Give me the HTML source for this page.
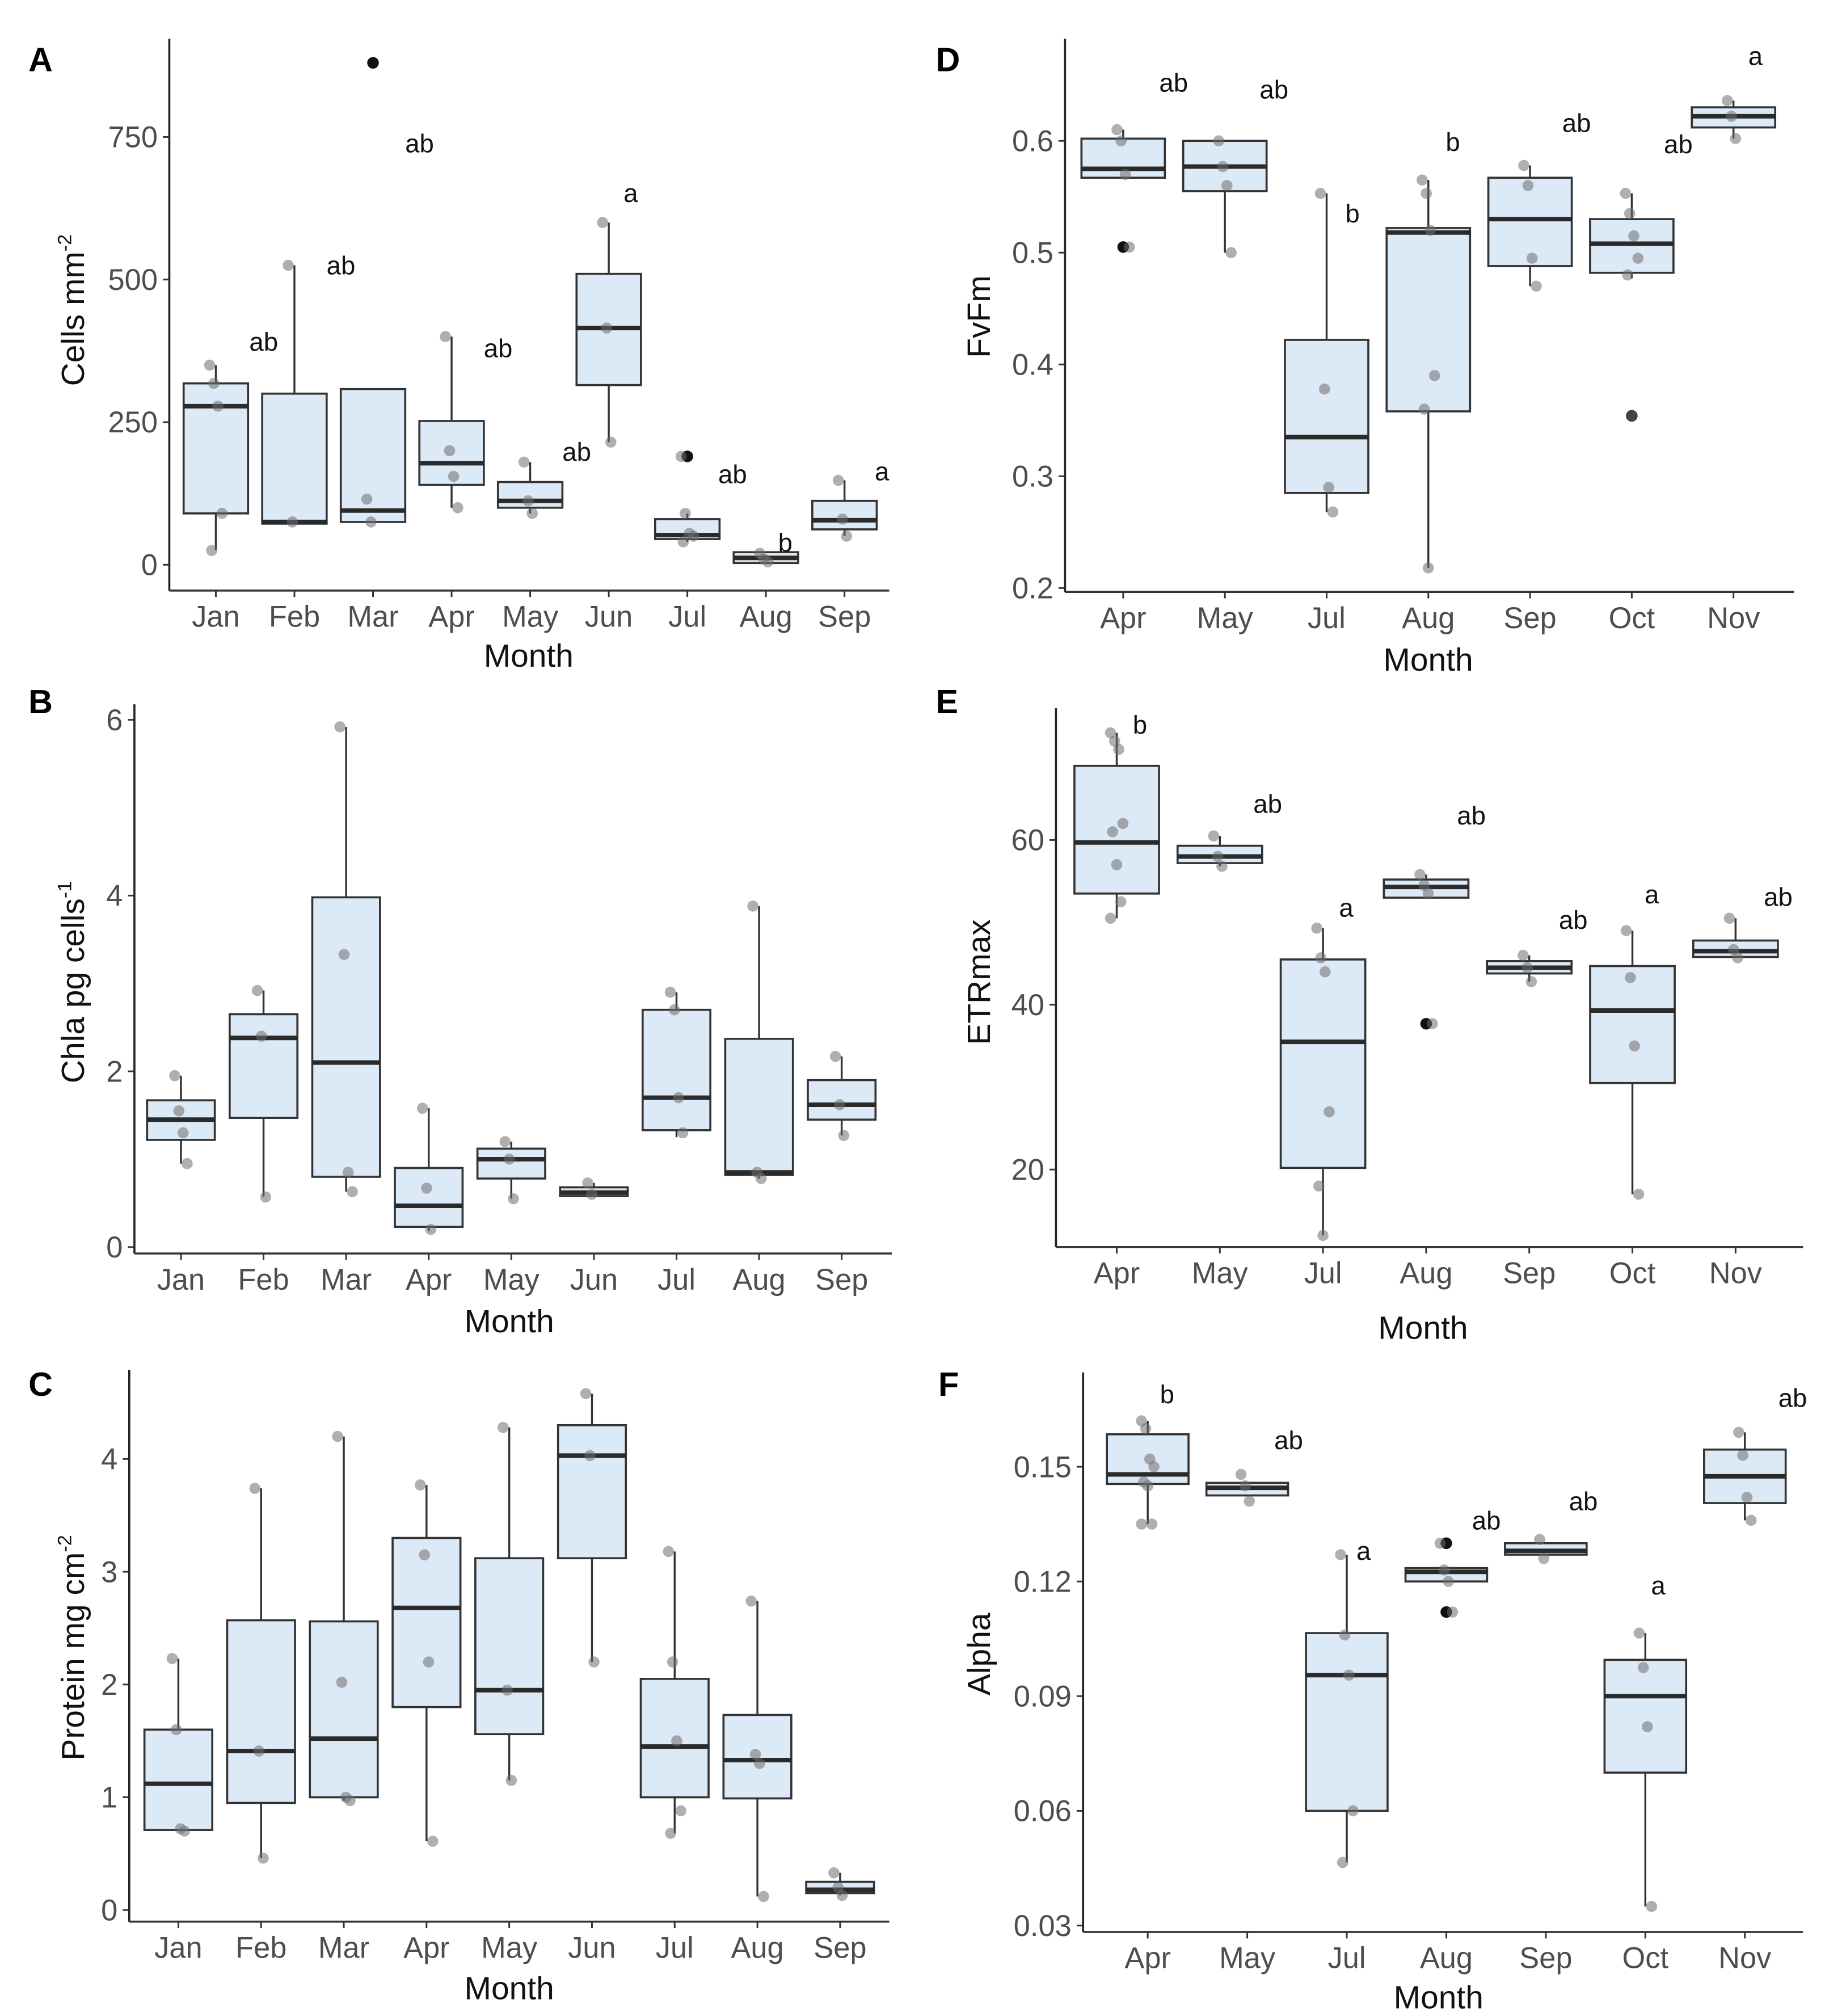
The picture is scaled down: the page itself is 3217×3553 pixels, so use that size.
<!DOCTYPE html>
<html><head><meta charset="utf-8"><style>
html,body{margin:0;padding:0;background:#fff;}
svg{display:block;}
text{font-family:"Liberation Sans",sans-serif;}
</style></head><body>
<svg id="fig" width="3217" height="3553" viewBox="0 0 1412 1560" preserveAspectRatio="none" xmlns="http://www.w3.org/2000/svg"></svg>
<script>
// ---- Data: panel A (Cells mm-2)
const monthsA = ["Jan","Feb","Mar","Apr","May","Jun","Jul","Aug","Sep"];
const boxA = [[25,90,278,318,350],[72,72,75,300,525],[75,75,95,308,308],[100,140,178,252,400],[90,100,112,145,180],[215,315,415,510,600],[40,45,52,80,90],[3,3,12,22,22],[50,62,78,112,148]];
const ptsA = [[350,318,278,90,25],[525,75],[115,75],[400,200,155,100],[180,112,90],[600,415,215],[190,90,55,50,40],[20,10,5],[148,80,50]];
const outA = [[],[],[880],[],[],[],[190],[],[]];
const letA = ["ab","ab","ab","ab","ab","a","ab","b","a"];
const letValA = [391,525,739,380,198,652,159,39,164];
const ticksA = [0,250,500,750];
// panel B (Chla)
const monthsB = monthsA;
const boxB = [[0.95,1.22,1.45,1.67,1.95],[0.57,1.47,2.38,2.65,2.92],[0.63,0.8,2.1,3.98,5.92],[0.18,0.23,0.47,0.9,1.58],[0.55,0.78,1.0,1.12,1.2],[0.58,0.58,0.62,0.68,0.73],[1.25,1.33,1.7,2.7,2.9],[0.78,0.82,0.85,2.37,3.88],[1.27,1.45,1.62,1.9,2.17]];
const ptsB = [[1.95,1.55,1.3,0.95],[2.92,2.4,0.57],[5.92,3.33,0.85,0.63],[1.58,0.67,0.2],[1.2,1.0,0.55],[0.73,0.6],[2.9,2.7,1.7,1.3],[3.88,0.85,0.78],[2.17,1.62,1.27]];
const ticksB = [0,2,4,6];
// panel C (Protein)
const monthsC = monthsA;
const boxC = [[0.7,0.71,1.12,1.6,2.23],[0.46,0.95,1.41,2.57,3.74],[0.97,1.0,1.52,2.56,4.2],[0.61,1.8,2.68,3.3,3.77],[1.15,1.56,1.95,3.12,4.28],[2.2,3.12,4.03,4.3,4.58],[0.68,1.0,1.45,2.05,3.18],[0.12,0.99,1.33,1.73,2.74],[0.13,0.15,0.18,0.25,0.33]];
const ptsC = [[2.23,1.6,0.72,0.7],[3.74,1.41,0.46],[4.2,2.02,1.0,0.97],[3.77,3.15,2.2,0.61],[4.28,1.95,1.15],[4.58,4.03,2.2],[3.18,2.2,1.5,0.88,0.68],[2.74,1.38,1.3,0.12],[0.33,0.2,0.13]];
const ticksC = [0,1,2,3,4];
// panel D (FvFm)
const monthsD = ["Apr","May","Jul","Aug","Sep","Oct","Nov"];
const boxD = [[0.567,0.567,0.575,0.602,0.61],[0.5,0.555,0.577,0.6,0.6],[0.268,0.285,0.335,0.422,0.553],[0.218,0.358,0.518,0.522,0.565],[0.47,0.488,0.53,0.567,0.578],[0.477,0.482,0.508,0.53,0.553],[0.602,0.612,0.622,0.63,0.636]];
const ptsD = [[0.61,0.6,0.57,0.505],[0.6,0.577,0.56,0.5],[0.553,0.378,0.29,0.268],[0.565,0.553,0.52,0.39,0.36,0.218],[0.578,0.56,0.495,0.47],[0.553,0.535,0.515,0.495,0.48,0.354],[0.636,0.622,0.602]];
const outD = [[0.505],[],[],[],[],[0.354],[]];
const letD = ["ab","ab","b","b","ab","ab","a"];
const letValD = [0.652,0.646,0.535,0.599,0.616,0.597,0.676];
const ticksD = [0.2,0.3,0.4,0.5,0.6];
// panel E (ETRmax)
const monthsE = monthsD;
const boxE = [[50.5,53.5,59.7,69,73],[56.8,57.2,58,59.3,60.5],[12,20.2,35.5,45.5,49.3],[53,53,54.3,55.2,55.8],[42.8,43.8,44.5,45.3,46],[17,30.5,39.3,44.7,49],[45.7,45.8,46.5,47.8,50.5]];
const ptsE = [[73,72,71,62,61,57,52.5,50.5],[60.5,58,56.8],[49.3,45.7,44,27,18,12],[55.8,54.5,53.5,37.7],[46,44.5,42.8],[49,43.3,35,17],[50.5,46.7,45.7]];
const outE = [[],[],[],[37.7],[],[],[]];
const letE = ["b","ab","a","ab","ab","a","ab"];
const letValE = [74,64.4,51.8,63,50.3,53.4,53.1];
const ticksE = [20,40,60];
// panel F (Alpha)
const monthsF = monthsD;
const boxF = [[0.135,0.1455,0.148,0.1585,0.162],[0.1425,0.1425,0.1445,0.1458,0.1458],[0.0465,0.06,0.0955,0.1065,0.127],[0.12,0.12,0.1225,0.1235,0.1235],[0.127,0.127,0.128,0.13,0.13],[0.035,0.07,0.09,0.0995,0.1065],[0.136,0.1405,0.1475,0.1545,0.159]];
const ptsF = [[0.162,0.16,0.152,0.15,0.146,0.145,0.135,0.135],[0.148,0.145,0.141],[0.127,0.106,0.0955,0.06,0.0465],[0.13,0.123,0.12,0.112],[0.131,0.126],[0.1065,0.0975,0.082,0.035],[0.159,0.153,0.142,0.136]];
const outF = [[],[],[],[0.13,0.112],[],[],[]];
const letF = ["b","ab","a","ab","ab","a","ab"];
const letValF = [0.169,0.157,0.128,0.136,0.141,0.119,0.168];
const ticksF = [0.03,0.06,0.09,0.12,0.15];

const NS="http://www.w3.org/2000/svg";
const svg=document.getElementById('fig');
function el(tag,attrs,parent){const e=document.createElementNS(NS,tag);for(const k in attrs)e.setAttribute(k,attrs[k]);(parent||svg).appendChild(e);return e;}

const panels=[
 {id:"a",tag:"A",tagX:22,tagY:55,ax:131,top:30,bottom:457,right:688,v1:0,p1:437,v2:750,p2:106,x0:167,dx:60.8,months:monthsA,box:boxA,pts:ptsA,out:outA,let:letA,letV:letValA,letDx:[37,36,36,36,36,17,35,15,29],ticks:ticksA,dec:0,ylab:"Cells mm",sup:"-2",ylx:65,yly:240,xlx:409,xly:516},
 {id:"b",tag:"B",tagX:22,tagY:552,ax:104,top:545,bottom:970,right:690,v1:0,p1:965,v2:6,p2:557,x0:140,dx:63.9,months:monthsB,box:boxB,pts:ptsB,out:null,let:null,ticks:ticksB,dec:0,ylab:"Chla pg cells",sup:"-1",ylx:65,yly:760,xlx:394,xly:1031},
 {id:"c",tag:"C",tagX:22,tagY:1080,ax:100,top:1060,bottom:1487,right:688,v1:0,p1:1478,v2:4,p2:1129,x0:138,dx:64,months:monthsC,box:boxC,pts:ptsC,out:null,let:null,ticks:ticksC,dec:0,ylab:"Protein mg cm",sup:"-2",ylx:65,yly:1275,xlx:394,xly:1547},
 {id:"d",tag:"D",tagX:724,tagY:55,ax:824,top:30,bottom:458,right:1388,v1:0.2,p1:455,v2:0.6,p2:109,x0:869,dx:78.7,months:monthsD,box:boxD,pts:ptsD,out:outD,let:letD,letV:letValD,letDx:[39,38,20,19,36,36,17],ticks:ticksD,dec:1,ylab:"FvFm",sup:"",ylx:766,yly:245,xlx:1105,xly:519},
 {id:"e",tag:"E",tagX:724,tagY:552,ax:817,top:548,bottom:965,right:1395,v1:20,p1:905,v2:60,p2:650,x0:864,dx:79.8,months:monthsE,box:boxE,pts:ptsE,out:outE,let:letE,letV:letValE,letDx:[18,37,18,35,34,15,33],ticks:ticksE,dec:0,ylab:"ETRmax",sup:"",ylx:766,yly:760,xlx:1101,xly:1036},
 {id:"f",tag:"F",tagX:726,tagY:1080,ax:838,top:1062,bottom:1495,right:1395,v1:0.03,p1:1490,v2:0.15,p2:1135,x0:888,dx:77,months:monthsF,box:boxF,pts:ptsF,out:outF,let:letF,letV:letValF,letDx:[15,32,13,31,29,10,37],ticks:ticksF,dec:2,ylab:"Alpha",sup:"",ylx:766,yly:1280,xlx:1113,xly:1554}
];

panels.forEach(P=>{
 const g=el('g',{});
 
 
 const y=v=>P.p1+(v-P.v1)*(P.p2-P.p1)/(P.v2-P.v1);
 const x=i=>P.x0+i*P.dx;
 const t=el('text',{x:P.tagX,y:P.tagY,'font-size':26,'font-weight':'bold','font-family':'"Liberation Sans Narrow","Liberation Sans",sans-serif'},g);
 t.textContent=P.tag;
 
 
 const ya=el('line',{x1:P.ax,y1:P.top,x2:P.ax,y2:P.bottom,stroke:'#222','stroke-width':1.6},g);
 
 
 const xa=el('line',{x1:P.ax,y1:P.bottom,x2:P.right,y2:P.bottom,stroke:'#333','stroke-width':1.6},g);
 
 
 P.ticks.forEach(v=>{
  el('line',{x1:P.ax-5,y1:y(v),x2:P.ax,y2:y(v),stroke:'#333','stroke-width':1.3},g);
  const tl=el('text',{x:P.ax-9,y:y(v)+8,'font-size':23,fill:'#4d4d4d','text-anchor':'end'},g);
  tl.textContent=v.toFixed(P.dec);
  
  
 });
 P.months.forEach((m,i)=>{
  el('line',{x1:x(i),y1:P.bottom,x2:x(i),y2:P.bottom+5,stroke:'#333','stroke-width':1.3},g);
  const ml=el('text',{x:x(i),y:P.bottom+28,'font-size':23,fill:'#4d4d4d','text-anchor':'middle'},g);
  ml.textContent=m;
  
  
  const b=P.box[i];const hw=P.dx*0.41;
  const wk=el('line',{x1:x(i),y1:y(b[0]),x2:x(i),y2:y(b[4]),stroke:'#333','stroke-width':1.5},g);
  
  
  const r=el('rect',{x:x(i)-hw,y:y(b[3]),width:2*hw,height:Math.max(1,y(b[1])-y(b[3])),fill:'#dce9f6',stroke:'#333','stroke-width':1.6},g);
  
  
  const md=el('line',{x1:x(i)-hw,y1:y(b[2]),x2:x(i)+hw,y2:y(b[2]),stroke:'#2a2a2a','stroke-width':3.5},g);
  
  
  if(P.out) P.out[i].forEach(v=>{
   const o=el('circle',{cx:x(i),cy:y(v),r:4.5,fill:'#111'},g);
   
   
  });
  P.pts[i].forEach((v,k)=>{
   const jit=((k*37)%7-3)*1.6;
   const c=el('circle',{cx:x(i)+jit,cy:y(v),r:4.3,fill:'rgba(110,110,110,0.55)'},g);
   
   
  });
  if(P.let){
   const lt=el('text',{x:x(i)+P.letDx[i],y:y(P.letV[i])+7,'font-size':20,fill:'#111','text-anchor':'middle'},g);
   lt.textContent=P.let[i];
   
   
  }
 });
 const xl=el('text',{x:P.xlx,y:P.xly,'font-size':25,fill:'#111','text-anchor':'middle'},g);
 xl.textContent='Month';
 
 
 const yl=el('text',{x:0,y:0,'font-size':25,fill:'#111','text-anchor':'middle',transform:`translate(${P.ylx},${P.yly}) rotate(-90)`},g);
 yl.textContent=P.ylab;
 if(P.sup){const s=el('tspan',{dy:-10,'font-size':15},yl);s.textContent=P.sup;}
 
 
});
</script>
</body></html>
